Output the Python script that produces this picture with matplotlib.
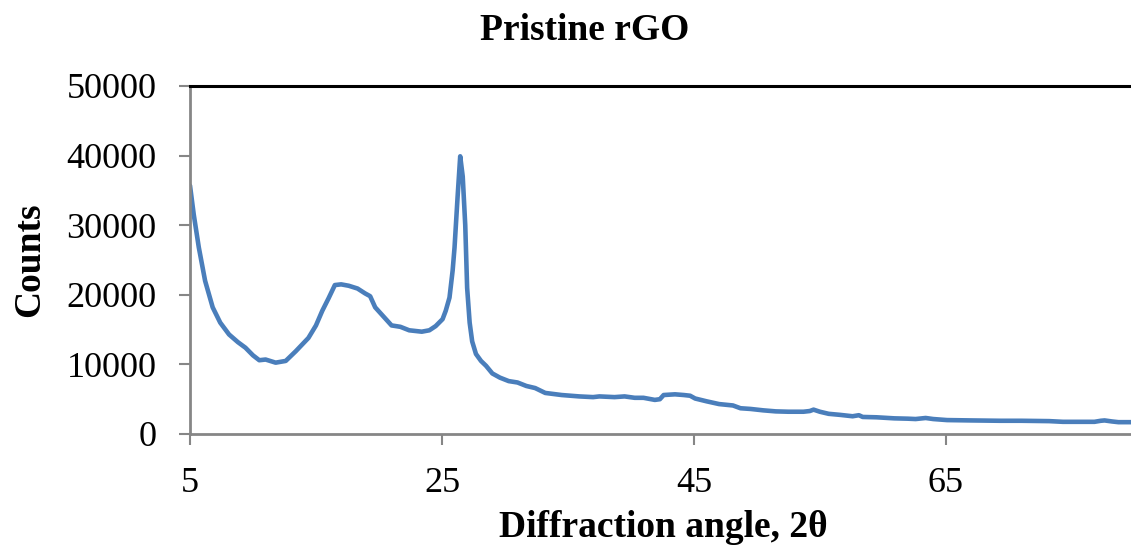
import matplotlib
matplotlib.use("Agg")
import matplotlib.pyplot as plt

# XRD pattern of pristine rGO
angle = [5.0, 5.3, 5.7, 6.2, 6.8, 7.4, 8.1, 8.8, 9.4, 10.0, 10.5, 11.0, 11.8,
         12.6, 13.4, 14.4, 15.0, 15.5, 16.0, 16.5, 17.0, 17.6, 18.3, 18.9,
         19.3, 19.7, 20.3, 21.0, 21.7, 22.4, 23.4, 24.0, 24.5, 25.05, 25.3,
         25.6, 25.85, 26.0, 26.24, 26.45, 26.65, 26.85, 27.0, 27.2, 27.4, 27.7,
         28.1, 28.5, 29.0, 29.6, 30.3, 31.0, 31.7, 32.4, 33.2, 34.5, 35.9,
         37.0, 37.5, 38.7, 39.5, 40.3, 41.0, 41.9, 42.3, 42.6, 43.5, 44.2,
         44.7, 45.1, 46.0, 47.0, 48.1, 48.7, 49.5, 50.5, 51.5, 52.5, 53.7,
         54.2, 54.5, 55.0, 55.7, 56.6, 57.6, 58.1, 58.4, 59.5, 60.9, 62.0,
         62.6, 63.4, 64.0, 65.1, 67.0, 69.3, 71.0, 73.2, 74.3, 75.5, 76.8,
         77.3, 77.6, 78.2, 78.7, 79.7]
counts = [35700, 31500, 26800, 22000, 18200, 16000, 14300, 13200, 12400,
          11300, 10600, 10700, 10250, 10500, 11900, 13800, 15600, 17700,
          19500, 21400, 21500, 21300, 20900, 20200, 19800, 18200, 17000,
          15600, 15400, 14900, 14700, 14900, 15500, 16500, 17700, 19600,
          23500, 26800, 34000, 39900, 37000, 30000, 21000, 16000, 13300,
          11500, 10500, 9800, 8700, 8100, 7600, 7400, 6900, 6600, 5900,
          5600, 5400, 5300, 5400, 5300, 5400, 5200, 5200, 4900, 5000, 5600,
          5700, 5600, 5500, 5100, 4700, 4300, 4100, 3700, 3600, 3400, 3250,
          3200, 3200, 3300, 3500, 3200, 2900, 2750, 2550, 2700, 2450, 2400,
          2250, 2200, 2150, 2300, 2150, 2000, 1950, 1900, 1900, 1850, 1750,
          1750, 1750, 1900, 1950, 1800, 1700, 1700]

x_ticks = [5, 25, 45, 65]
y_ticks = [0, 10000, 20000, 30000, 40000, 50000]

plt.rcParams['font.family'] = ['Liberation Serif', 'DejaVu Serif']

fig = plt.figure(figsize=(11.31, 5.46), dpi=100)
ax = fig.add_axes([190 / 1131, 1 - 434 / 546, 941 / 1131, (434 - 86) / 546])

ax.plot(angle, counts, color='#4a7ebb', linewidth=3.3,
        solid_joinstyle='round', solid_capstyle='round')

ax.set_xlim(5, 79.7)
ax.set_ylim(0, 50000)
ax.set_xticks(x_ticks)
ax.set_yticks(y_ticks)
ax.tick_params(axis='both', labelsize=26, color='#868686', length=8, width=1.5)
ax.tick_params(axis='x', pad=16)
ax.tick_params(axis='y', pad=16)

for side in ['left', 'bottom']:
    ax.spines[side].set_color('#868686')
    ax.spines[side].set_linewidth(2)
ax.spines['top'].set_color('black')
ax.spines['top'].set_linewidth(2.2)
ax.spines['right'].set_visible(False)

ax.set_ylabel("Counts", fontsize=27, fontweight='bold', labelpad=14)
fig.text(663 / 1131, 1 - 537 / 546, "Diffraction angle, 2θ", fontsize=27,
         fontweight='bold', ha='center', va='baseline')
fig.text(585 / 1131, 1 - 30 / 546, "Pristine rGO", fontsize=27, fontweight='bold',
         ha='center', va='center')

fig.savefig("out.png", dpi=100)
